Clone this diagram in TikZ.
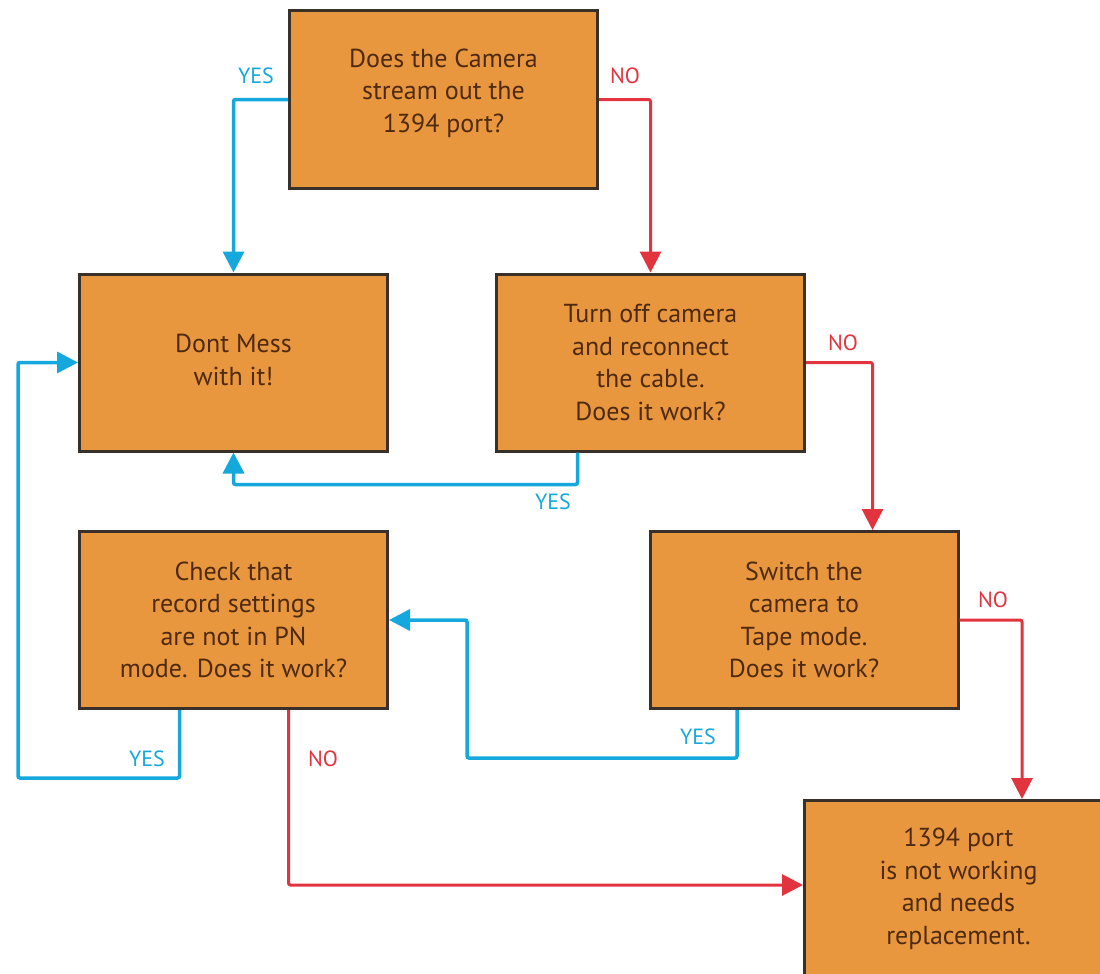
\documentclass[tikz,border=0pt]{standalone}
\usepackage{fontspec}
\setmainfont{PT Sans}
\usetikzlibrary{arrows.meta}

\definecolor{boxfill}{RGB}{233,151,62}
\definecolor{boxline}{RGB}{58,48,42}
\definecolor{boxtext}{RGB}{78,42,16}
\definecolor{yescol}{RGB}{20,168,220}
\definecolor{nocol}{RGB}{226,52,62}

\begin{document}
\begin{tikzpicture}[x=1pt, y=-1pt,
    main/.style = {draw=boxline, fill=boxfill, line width=3pt, minimum width=308pt, minimum height=177pt,
                   align=center, text=boxtext, font=\fontsize{26}{32.5}\selectfont},
    yes/.style = {draw=yescol, line width=3.5pt, rounded corners=2pt, -{Triangle[length=21pt, width=21pt]}},
    no/.style = {draw=nocol, line width=3pt, rounded corners=2pt, -{Triangle[length=21pt, width=21pt]}},
    lbl/.style = {font=\fontsize{22}{22}\selectfont}]
        \useasboundingbox (0,0) rectangle (1100,974);

        \node[main] (1) at (443.5,99.5) {Does the Camera\\stream out the\\1394 port?\\[-14pt]};
        \node[main] (2) at (233.5,362.5) {\raisebox{-8pt}{\begin{tabular}{@{}c@{}}Dont Mess\\with it!\end{tabular}}};
        \node[main] (3) at (650.5,362.5) {Turn off camera\\and reconnect\\the cable.\\Does it work?};
        \node[main] (4) at (233.5,620) {Check that\\record settings\\are not in PN\\mode. Does it work?};
        \node[main] (5) at (804,620) {Switch the\\camera to\\Tape mode.\\Does it work?};
        \node[main] (6) at (958.5,889) {1394 port\\is not working\\and needs\\replacement.};

        \coordinate (k1) at (467,758);
        \coordinate (k2) at (18,778);

        % yes branches
        \draw[yes] (1.west) -| (2.north);
        \draw[yes] ([xshift=-73pt]3.south) -- ++(0,32) -| (2.south);
        \draw[yes] ([xshift=-67pt]5.south) |- (k1) |- (4.east);
        \draw[yes] ([xshift=-54pt]4.south) |- (k2) |- (2.west);

        % no branches
        \draw[no] (1.east) -| (3.north);
        \draw[no] (3.east) -| ([xshift=-86pt]6.north |- 5.north);
        \draw[no] (5.east) -| ([xshift=63.5pt]6.north);
        \draw[no] ([xshift=55pt]4.south) |- ([yshift=4pt]6.west);

        \node[lbl, text=yescol] (y1) at (256,76) {YES};
        \node[lbl, text=nocol] (n1) at (625,76) {NO};
        \node[lbl, text=nocol] (n2) at (843,343) {NO};
        \node[lbl, text=yescol] (y2) at (553,502) {YES};
        \node[lbl, text=nocol] (n3) at (993,600) {NO};
        \node[lbl, text=yescol] (y3) at (698,737) {YES};
        \node[lbl, text=yescol] (y4) at (147,759) {YES};
        \node[lbl, text=nocol] (n4) at (323,759) {NO};
\end{tikzpicture}
\end{document}
